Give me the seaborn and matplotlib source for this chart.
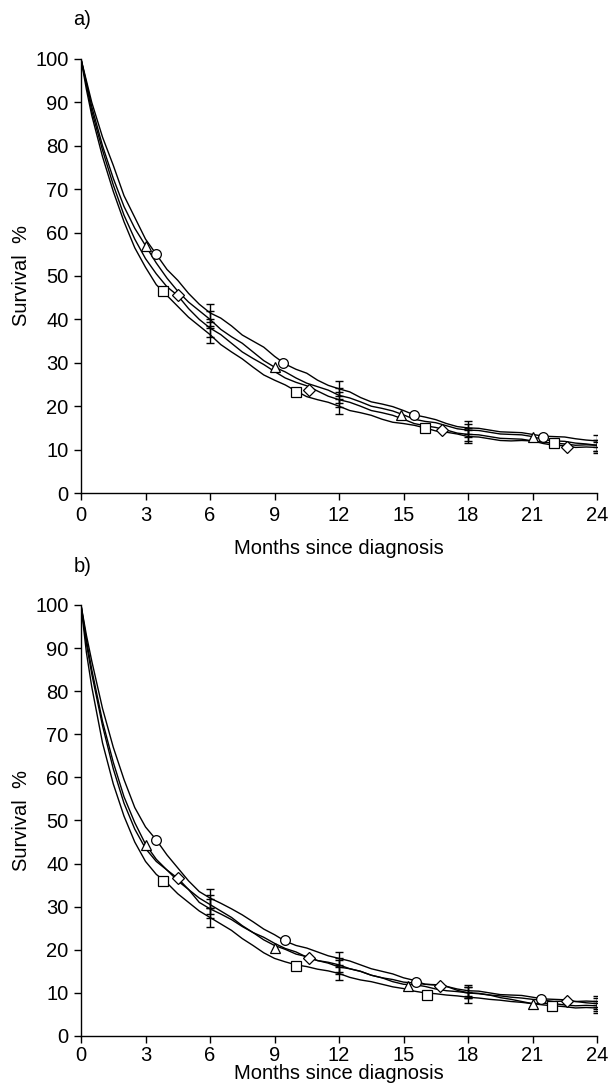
import numpy as np
import pandas as pd
import matplotlib
matplotlib.use("Agg")
import matplotlib.pyplot as plt
import seaborn as sns

# ---------------- data ----------------
months = [0, 0.25, 0.5, 1, 1.5, 2, 2.5, 3, 3.5, 4, 4.5, 5, 5.5,
          6, 6.5, 7, 7.5, 8, 8.5, 9, 9.5, 10, 10.5, 11, 11.5, 12, 12.5,
          13, 13.5, 14, 14.5, 15, 15.5, 16, 16.5, 17, 17.5, 18, 18.5,
          19, 19.5, 20, 20.5, 21, 21.5, 22, 22.5, 23, 23.5, 24]

# Panel a survival (%)
a_circle   = [100, 95, 90, 82, 75.5, 68.5, 63.5, 58.5, 55, 51.5, 49, 46, 43.5,
              41.5, 40.3, 38.5, 36.4, 35, 33.6, 31.5, 29.7, 28.5, 27.6, 26, 24.8, 24, 23.3,
              22, 21.0, 20.5, 19.9, 19, 18.0, 17.5, 16.9, 16, 15.3, 15, 14.9,
              14.5, 14.1, 14, 13.9, 13.5, 13.1, 13, 12.9, 12.5, 12.2, 12]
a_triangle = [100, 94.5, 89, 80, 72.5, 66, 61, 57, 53, 49.5, 46.5, 44, 42,
              40, 37.7, 36, 34.5, 32.5, 30.5, 29, 27.9, 26.5, 25.3, 24.5, 23.7, 22.5, 21.9,
              21, 20.0, 19.5, 18.9, 18, 17.0, 16.5, 16.2, 15.5, 14.8, 14.5, 14.4,
              14, 13.6, 13.5, 13.4, 13, 12.3, 12, 11.9, 11.5, 11.3, 11]
a_diamond  = [100, 94, 88, 79, 71, 64, 58.5, 54, 50.5, 47.5, 45.5, 42.5, 40,
              38, 36.5, 34.5, 32.5, 31, 29.6, 28, 26.5, 25.5, 24.7, 23.5, 22.3, 21.5, 20.9,
              20, 19.0, 18.5, 17.9, 17, 16.0, 15.5, 15.1, 14.5, 13.8, 13.5, 13.4,
              13, 12.6, 12.5, 12.4, 12, 11.4, 11, 10.9, 10.5, 10.6, 10.5]
a_square   = [100, 93, 87, 77.5, 69.5, 62.5, 56.5, 52, 48, 45.5, 43, 40.5, 38.5,
              36.5, 34.2, 32.5, 30.9, 29, 27.2, 26, 24.9, 23.5, 22.2, 21.5, 20.9, 20, 19.0,
              18.5, 17.9, 17, 16.3, 16, 15.6, 15, 14.3, 14, 13.6, 13, 12.9,
              12.5, 12.1, 12, 12.1, 12, 11.7, 11.5, 11.3, 11, 11.1, 11]

# Panel b survival (%)
b_circle   = [100, 93, 87, 76, 67, 59.5, 53, 48.5, 45.5, 42, 39, 36, 33.5,
              32, 30.8, 29.5, 28.1, 26.5, 24.8, 23.5, 22.0, 21, 20.4, 19.5, 18.6, 18, 17.4,
              16.5, 15.6, 15, 14.4, 13.5, 12.9, 12, 11.9, 11.5, 10.9, 10.5, 10.4,
              10, 9.6, 9.5, 9.4, 9, 8.6, 8.5, 8.4, 8, 8.1, 8]
b_triangle = [100, 92, 85, 73, 63.5, 55.5, 49.5, 44.5, 41, 38.5, 36, 34, 32,
              30.5, 29.0, 27.5, 25.6, 24, 22.3, 21, 20.1, 19, 18.4, 17.5, 17.1, 16.5, 15.6,
              15, 14.1, 13.5, 12.6, 12, 11.9, 11.5, 10.9, 10.5, 10.3, 10, 9.9,
              9.5, 8.9, 8.5, 8.0, 7.5, 7.6, 7.5, 7.2, 7, 7.1, 7]
b_diamond  = [100, 91, 84, 72, 62, 54, 48, 43.5, 40.5, 38.5, 36.6, 34, 31,
              29.5, 28.3, 27, 25.4, 24, 22.9, 21.5, 20.3, 19.5, 18.3, 17.5, 16.9, 16, 15.6,
              15, 14.1, 13.5, 13.1, 12.5, 12.3, 12, 11.8, 11.5, 10.6, 10, 9.8,
              9.5, 9.3, 9, 8.8, 8.5, 8.3, 8, 8.1, 8, 7.7, 7.5]
b_square   = [100, 89, 81, 68, 58.5, 51, 45, 40.5, 37.5, 35.5, 33, 31, 29,
              27.5, 26.0, 24.5, 22.6, 21, 19.3, 18, 17.2, 16.5, 16.1, 15.5, 15.1, 14.5, 13.6,
              13, 12.6, 12, 11.4, 11, 10.4, 10, 9.8, 9.5, 9.3, 9, 8.8,
              8.5, 8.3, 8, 7.8, 7.5, 7.2, 7, 6.8, 6.5, 6.6, 6.5]

# Marker positions (month, survival)
a_mk_circle_x   = [3.5, 9.4, 15.5, 21.5];  a_mk_circle_y   = [55, 30, 18, 13]
a_mk_triangle_x = [3.0, 9.0, 14.9, 21.0];  a_mk_triangle_y = [57, 29, 18, 13]
a_mk_diamond_x  = [4.5, 10.6, 16.8, 22.6]; a_mk_diamond_y  = [45.7, 23.7, 14.5, 10.5]
a_mk_square_x   = [3.8, 10.0, 16.0, 22.0]; a_mk_square_y   = [46.6, 23.3, 15, 11.5]

b_mk_circle_x   = [3.5, 9.5, 15.6, 21.4];  b_mk_circle_y   = [45.5, 22.2, 12.5, 8.5]
b_mk_triangle_x = [3.0, 9.0, 15.2, 21.0];  b_mk_triangle_y = [44.3, 20.4, 11.5, 7.5]
b_mk_diamond_x  = [4.5, 10.6, 16.7, 22.6]; b_mk_diamond_y  = [36.7, 18.1, 11.5, 8]
b_mk_square_x   = [3.8, 10.0, 16.1, 21.9]; b_mk_square_y   = [36, 16.2, 9.5, 7]

# Confidence intervals at 6, 12, 18, 24 months
ci_months = [6, 12, 18, 24]
a_ci_center = {"circle": [41.5, 24, 15, 12], "triangle": [40, 22.5, 14.5, 11],
               "diamond": [38, 21.5, 13.5, 10.5], "square": [36.5, 20, 13, 11]}
a_ci_half = [2.0, 1.7, 1.5, 1.3]
b_ci_center = {"circle": [32, 18, 10.5, 8], "triangle": [30.5, 16.5, 10, 7],
               "diamond": [29.5, 16, 10, 7.5], "square": [27.5, 14.5, 9, 6.5]}
b_ci_half = [2.2, 1.6, 1.3, 1.2]

y_ticks = list(range(0, 101, 10))
x_ticks = list(range(0, 25, 3))
panel_labels = ["a)", "b)"]
xlabel = "Months since diagnosis"
ylabel = "Survival  %"

# ---------------- plotting ----------------
sns.set_theme(style="ticks")
fs = 14.5
plt.rcParams["font.family"] = ["Liberation Sans", "DejaVu Sans"]
plt.rcParams["axes.edgecolor"] = "black"
plt.rcParams["xtick.color"] = "black"
plt.rcParams["ytick.color"] = "black"

fig = plt.figure(figsize=(6.10, 10.84), dpi=100)
ax_a = fig.add_axes([0.1328, 0.5452, 0.8459, 0.4004])
ax_b = fig.add_axes([0.1328, 0.0443, 0.8459, 0.3976])

panels = [
    (ax_a, [a_circle, a_triangle, a_diamond, a_square],
     [(a_mk_circle_x, a_mk_circle_y), (a_mk_triangle_x, a_mk_triangle_y),
      (a_mk_diamond_x, a_mk_diamond_y), (a_mk_square_x, a_mk_square_y)],
     a_ci_center, a_ci_half),
    (ax_b, [b_circle, b_triangle, b_diamond, b_square],
     [(b_mk_circle_x, b_mk_circle_y), (b_mk_triangle_x, b_mk_triangle_y),
      (b_mk_diamond_x, b_mk_diamond_y), (b_mk_square_x, b_mk_square_y)],
     b_ci_center, b_ci_half),
]
names = ["circle", "triangle", "diamond", "square"]
markers = {"circle": "o", "triangle": "^", "diamond": "D", "square": "s"}
msizes = {"circle": 7, "triangle": 7.5, "diamond": 6.3, "square": 7}

for i, ((ax, curves, mks, ci_c, ci_h), plab) in enumerate(zip(panels, panel_labels)):
    rows = []
    for nm, vals in zip(names, curves):
        for m, v in zip(months, vals):
            rows.append({"month": m, "surv": v, "group": nm})
    df = pd.DataFrame(rows)
    sns.lineplot(data=df, x="month", y="surv", units="group", estimator=None,
                 color="black", linewidth=1.0, ax=ax, legend=False, zorder=2)
    for nm in names:
        c = np.array(ci_c[nm]); h = np.array(ci_h)
        ax.errorbar(ci_months, c, yerr=h, fmt="none", ecolor="black",
                    elinewidth=1.0, capsize=3.2, capthick=1.0, zorder=3)
    for nm, (mx, my) in zip(names, mks):
        ax.plot(mx, my, linestyle="none", marker=markers[nm], markersize=msizes[nm],
                markerfacecolor="white", markeredgecolor="black",
                markeredgewidth=0.9, zorder=4)

    ax.set_xlim(0, 24)
    ax.set_ylim(0, 100)
    ax.set_xticks(x_ticks)
    ax.set_yticks(y_ticks)
    ax.tick_params(axis="y", direction="out", length=5, width=1.0,
                   labelsize=fs, colors="black", pad=4)
    ax.tick_params(axis="x", direction="out", length=5, width=1.0,
                   labelsize=fs, colors="black", pad=4 if i == 0 else 2.5)
    for s in ["top", "right"]:
        ax.spines[s].set_visible(False)
    for s in ["left", "bottom"]:
        ax.spines[s].set_linewidth(1.0)
    ax.set_xlabel(xlabel, fontsize=fs, color="black")
    ax.xaxis.label.set_va("center")
    ax.xaxis.set_label_coords(0.5, -0.127 if i == 0 else -0.0875)
    ax.set_ylabel(ylabel, fontsize=fs, labelpad=3, color="black")
    ax.text(-0.015, 1.09, plab, transform=ax.transAxes, fontsize=fs,
            ha="left", va="center", color="black")
    ax.set_facecolor("white")

fig.savefig("out.png", dpi=100, facecolor="white")
